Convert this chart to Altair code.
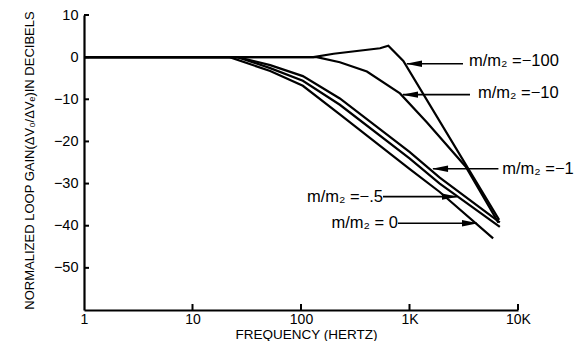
import altair as alt
import pandas as pd

# ---- curve data (frequency in Hz, normalized loop gain in dB) ----
freq_m100 = [1, 130, 200, 535, 638, 877, 6700]
gain_m100 = [0, 0, 0.8, 2.1, 2.7, -0.9, -38.6]

freq_m10 = [1, 140, 228, 405, 817, 1450, 3300, 6600]
gain_m10 = [0, 0, -1.2, -3.4, -8.6, -15.5, -26.0, -39.3]

freq_m1 = [1, 26, 52, 104, 228, 1000, 1900, 6800]
gain_m1 = [0, 0, -1.9, -4.5, -9.8, -22.5, -28.6, -39.2]

freq_m05 = [1, 26, 52, 104, 228, 1000, 1900, 6800]
gain_m05 = [0, 0, -2.6, -5.6, -11.3, -24.0, -30.0, -40.3]

freq_0 = [1, 22, 52, 104, 228, 1000, 1900, 5900]
gain_0 = [0, 0, -3.3, -6.8, -13.6, -26.5, -32.0, -43.0]

series_names = ["-100", "-10", "-1", "-.5", "0"]

# ---- annotations ----
label_text = ["m/m₂ =−100", "m/m₂ =−10", "m/m₂ =−1", "m/m₂ =−.5", "m/m₂ = 0"]
label_freq = [3535, 4276, 7150, 570, 783]
label_gain = [-0.94, -8.45, -26.5, -33.1, -39.4]
label_side = ["left", "left", "left", "right", "right"]

arrow_tail_freq = [3112, 3610, 6600, 570, 783]
arrow_head_freq = [948, 871, 1648, 2740, 4190]
arrow_gain = [-1.57, -8.9, -26.5, -33.1, -39.4]

# ---- axis ticks ----
y_tick_values = [10, 0, -10, -20, -30, -40, -50]
x_tick_values = [1, 10, 100, 1000, 10000]

rows = []
for name, fs, gs in zip(series_names,
                        [freq_m100, freq_m10, freq_m1, freq_m05, freq_0],
                        [gain_m100, gain_m10, gain_m1, gain_m05, gain_0]):
    for i, (f, g) in enumerate(zip(fs, gs)):
        rows.append({"series": name, "freq": f, "gain": g, "order": i})
curves = pd.DataFrame(rows)

labels = pd.DataFrame({"text": label_text, "freq": label_freq,
                       "gain": label_gain, "side": label_side})
arrows = pd.DataFrame({"freq": arrow_tail_freq, "head": arrow_head_freq,
                       "gain": arrow_gain, "side": label_side})
yticks = pd.DataFrame({"gain": y_tick_values})
xticks = pd.DataFrame({"freq": x_tick_values[1:]})

FONT = "Liberation Sans"
W, H = 434, 295

xscale = alt.Scale(type="log", domain=[1, 10000], nice=False)
yscale = alt.Scale(domain=[-60, 10], nice=False, zero=False)

x_axis = alt.Axis(
    values=x_tick_values,
    labelExpr="datum.value >= 1000 ? format(datum.value/1000,'d') + 'K' : format(datum.value,'d')",
    ticks=False, tickSize=0, labelPadding=2, labelFlush=False, labelOverlap=False,
    labelFontSize=14, labelFont=FONT, labelColor="black",
    domainColor="black", domainWidth=2.2, grid=False,
    title="FREQUENCY (HERTZ)", titleFont=FONT, titleFontSize=13.5,
    titleFontWeight="normal", titleColor="black",
    titleX=222, titleY=28.5, titleBaseline="alphabetic",
)
y_axis = alt.Axis(
    values=y_tick_values,
    ticks=False, tickSize=0, labelPadding=6, labelFlush=False,
    labelFontSize=14.5, labelFont=FONT, labelColor="black",
    domainColor="black", domainWidth=2.2, grid=False,
    title="NORMALIZED LOOP GAIN(ΔV₀/ΔVₑ)IN DECIBELS", titleFont=FONT,
    titleFontSize=13, titleFontWeight="normal", titleColor="black",
    titleAngle=270, titleX=-50.5, titleY=145, titleBaseline="alphabetic",
)

X = lambda f: alt.X(f, scale=xscale, axis=x_axis)
Y = lambda f: alt.Y(f, scale=yscale, axis=y_axis)

lines = alt.Chart(curves).mark_line(color="black", strokeWidth=2.2).encode(
    x=X("freq:Q"),
    y=Y("gain:Q"),
    detail="series:N",
    order="order:Q",
)

ytick_marks = alt.Chart(yticks).mark_rule(color="black", strokeWidth=2).encode(
    y=Y("gain:Q"),
    x=alt.value(0), x2=alt.value(5),
)
xtick_marks = alt.Chart(xticks).mark_rule(color="black", strokeWidth=2).encode(
    x=X("freq:Q"),
    y=alt.value(H), y2=alt.value(H - 6),
)

arrow_lines = alt.Chart(arrows).mark_rule(color="black", strokeWidth=1.6).encode(
    x=X("freq:Q"),
    x2="head:Q",
    y=Y("gain:Q"),
)
head_left = alt.Chart(arrows).transform_filter("datum.side == 'left'").mark_point(
    shape="M-1,0L1,-0.4L1,0.4Z", filled=True, color="black", opacity=1,
    size=256, xOffset=7,
).encode(
    x=X("head:Q"),
    y=Y("gain:Q"),
)
head_right = alt.Chart(arrows).transform_filter("datum.side == 'right'").mark_point(
    shape="M1,0L-1,-0.4L-1,0.4Z", filled=True, color="black", opacity=1,
    size=256, xOffset=-7,
).encode(
    x=X("head:Q"),
    y=Y("gain:Q"),
)

text_left = alt.Chart(labels).transform_filter("datum.side == 'left'").mark_text(
    align="left", baseline="middle", font=FONT, fontSize=16.5, color="black",
).encode(
    x=X("freq:Q"),
    y=Y("gain:Q"),
    text="text:N",
)
text_right = alt.Chart(labels).transform_filter("datum.side == 'right'").mark_text(
    align="right", baseline="middle", font=FONT, fontSize=16.5, color="black",
).encode(
    x=X("freq:Q"),
    y=Y("gain:Q"),
    text="text:N",
)

chart = alt.layer(
    lines, ytick_marks, xtick_marks, arrow_lines, head_left, head_right,
    text_left, text_right,
).properties(
    width=W, height=H,
    autosize=alt.AutoSizeParams(type="none"),
    padding={"left": 76, "top": 7, "right": 56, "bottom": 31},
    background="white",
).configure_view(stroke=None)

chart.save("out.html", embed_options={"renderer": "svg", "actions": False})
